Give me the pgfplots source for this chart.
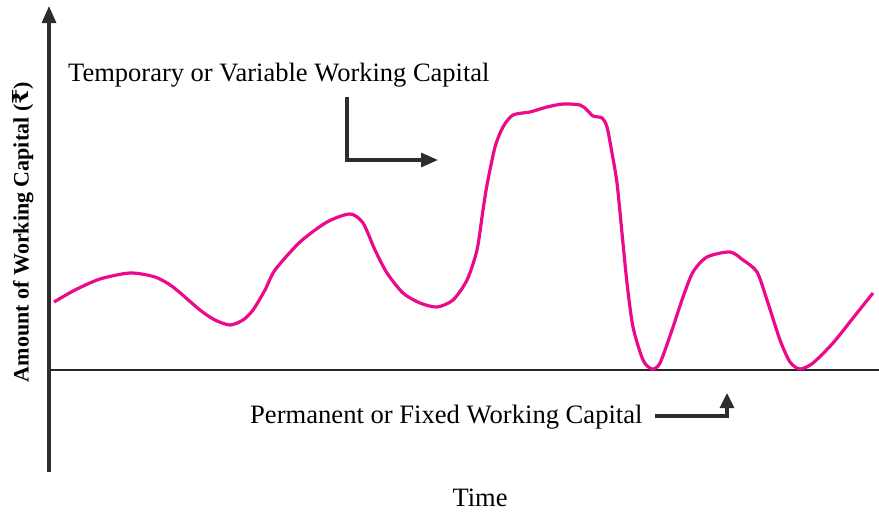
\documentclass[border=0pt]{standalone}
\usepackage{pgfplots}
\pgfplotsset{compat=1.18}
\usepackage{fontspec}
\setmainfont{Liberation Serif}
\newfontfamily\rupeefont{DejaVu Serif}
\usetikzlibrary{arrows.meta}
\definecolor{curve}{RGB}{236,10,140}
\definecolor{axgray}{RGB}{45,45,45}
\begin{document}
\begin{tikzpicture}
\begin{axis}[
  scale only axis, width=879pt, height=512pt,
  xmin=0, xmax=879, ymin=0, ymax=512, y dir=reverse,
  hide axis, clip=false]
% axes
\draw[axgray, line width=3.2pt, -{Triangle[length=17pt,width=14pt]}] (axis cs:49,472) -- (axis cs:49,6);
\draw[black!85, line width=2.6pt] (axis cs:49,370) -- (axis cs:879,370);
% curve
\addplot[curve, line width=3.2pt, smooth, tension=0.45] coordinates {
(54,302) (75,290) (100,279) (130,273) (155,277) (173,287) (200,310) (215,320) (230,325) (243,320) (253,310) (265,290) (275,270) (300,242) (327,222) (350,214) (363,223) (375,250) (387,273) (403,293) (420,303) (437,307) (453,300) (467,280) (477,250) (483,210) (487,185) (495,147) (503,127) (513,115) (530,112) (547,107) (563,104) (580,105) (587,110) (593,116) (602,118) (607,127) (612,153) (617,183) (622,233) (627,283) (633,327) (643,360) (652,369) (660,363) (672,330) (683,297) (693,272) (707,257) (730,252) (743,260) (757,272) (767,300) (780,340) (790,362) (800,369) (813,363) (833,343) (853,318) (873,293)
};
% annotation arrows
\draw[axgray, line width=3.2pt, -{Triangle[length=17pt,width=14pt]}] (axis cs:347,97) -- (axis cs:347,160) -- (axis cs:438,160);
\draw[axgray, line width=3.2pt, -{Triangle[length=15pt,width=14pt]}] (axis cs:655,416) -- (axis cs:727,416) -- (axis cs:727,393);
% texts
\node[anchor=base west, inner sep=0pt, font=\fontsize{26.5}{30}\selectfont] at (axis cs:68,81) {Temporary or Variable Working Capital};
\node[anchor=base west, inner sep=0pt, font=\fontsize{26.6}{30}\selectfont] at (axis cs:250,423) {Permanent or Fixed Working Capital};
\node[anchor=base, inner sep=0pt, font=\fontsize{26.5}{30}\selectfont] at (axis cs:480,506) {Time};
\node[rotate=90, inner sep=0pt, font=\fontsize{22}{26}\selectfont\bfseries] at (axis cs:23,232) {Amount of Working Capital ({\rupeefont\bfseries ₹})};
\end{axis}
\pgfresetboundingbox
\path (current axis.south west) rectangle (current axis.north east);
\end{tikzpicture}
\end{document}
